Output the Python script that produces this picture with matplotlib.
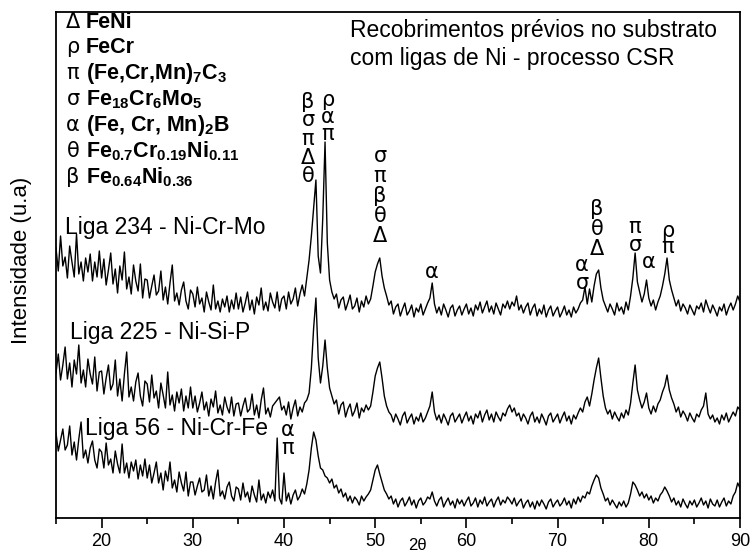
import matplotlib
matplotlib.use("Agg")
import matplotlib.pyplot as plt
from matplotlib.ticker import MultipleLocator

plt.rcParams['font.family'] = ['Liberation Sans', 'DejaVu Sans']
plt.rcParams['mathtext.fontset'] = 'custom'
plt.rcParams['mathtext.rm'] = 'Liberation Sans'
plt.rcParams['mathtext.bf'] = 'Liberation Sans:bold'
plt.rcParams['mathtext.it'] = 'Liberation Sans:italic'

# 2-theta grid (degrees), 0.25 step from 15 to 90
two_theta = [15 + 0.25 * i for i in range(301)]

# Liga 234 - Ni-Cr-Mo (top trace), arbitrary intensity units
liga_234 = [
    270, 247, 282, 252, 261, 240, 272, 256, 241, 284, 244, 256, 237, 260, 246, 264, 237, 256, 241, 267,
    240, 259, 233, 248, 265, 234, 249, 225, 252, 238, 266, 229, 241, 224, 253, 237, 227, 254, 220, 239,
    238, 220, 232, 243, 223, 227, 247, 218, 231, 214, 235, 253, 217, 225, 213, 228, 236, 217, 209, 228,
    224, 211, 231, 214, 220, 206, 226, 216, 208, 233, 209, 217, 206, 219, 211, 222, 206, 218, 209, 225,
    209, 221, 206, 215, 226, 208, 218, 204, 221, 213, 230, 208, 216, 207, 225, 216, 210, 226, 207, 219,
    222, 209, 226, 214, 219, 230, 212, 224, 233, 222, 240, 258, 282, 310, 338, 262, 245, 300, 376, 275,
    238, 226, 219, 224, 210, 218, 221, 208, 215, 223, 209, 212, 220, 206, 217, 211, 222, 214, 219, 232,
    246, 254, 260, 242, 230, 222, 213, 217, 204, 211, 214, 202, 209, 215, 203, 207, 213, 201, 210, 206,
    214, 203, 209, 215, 220, 235, 214, 205, 211, 203, 214, 208, 201, 210, 213, 202, 208, 212, 203, 209,
    214, 204, 210, 202, 213, 208, 216, 205, 211, 217, 206, 212, 204, 215, 209, 203, 214, 210, 217, 209,
    216, 212, 222, 208, 213, 205, 211, 215, 203, 210, 214, 202, 209, 204, 213, 201, 208, 212, 202, 207,
    211, 201, 206, 212, 203, 208, 201, 211, 205, 209, 215, 218, 231, 214, 229, 216, 232, 244, 248, 230,
    218, 212, 206, 214, 209, 203, 215, 207, 211, 204, 216, 208, 222, 240, 265, 236, 226, 216, 224, 238,
    220, 212, 218, 208, 216, 222, 232, 244, 260, 238, 228, 220, 212, 218, 207, 214, 210, 204, 213, 208,
    203, 212, 209, 215, 206, 218, 211, 205, 213, 208, 202, 211, 207, 214, 203, 210, 215, 208, 214, 222,
    216,
]

# Liga 225 - Ni-Si-P (middle trace)
liga_225 = [
    145, 164, 138, 153, 171, 139, 155, 131, 158, 144, 173, 135, 148, 131, 159, 144, 134, 161, 127, 146,
    147, 124, 140, 153, 128, 134, 158, 122, 139, 117, 144, 166, 121, 131, 117, 136, 145, 122, 112, 137,
    134, 116, 143, 120, 127, 110, 135, 123, 110, 146, 113, 123, 107, 126, 115, 129, 107, 122, 110, 131,
    110, 122, 106, 115, 126, 108, 116, 102, 119, 111, 127, 105, 113, 103, 121, 111, 105, 121, 102, 114,
    115, 102, 112, 120, 106, 109, 124, 103, 113, 100, 118, 130, 104, 110, 101, 112, 115, 118, 121, 108,
    112, 103, 116, 99, 110, 118, 102, 111, 106, 115, 118, 125, 150, 190, 220, 160, 135, 152, 178, 150,
    130, 122, 114, 118, 104, 113, 116, 101, 109, 114, 102, 107, 115, 100, 110, 106, 113, 108, 112, 126,
    142, 150, 156, 140, 122, 112, 106, 103, 96, 104, 99, 93, 102, 106, 95, 100, 104, 94, 101, 97,
    105, 96, 100, 106, 112, 126, 106, 98, 103, 95, 104, 99, 93, 102, 105, 96, 100, 104, 95, 101,
    106, 97, 102, 94, 104, 100, 107, 96, 103, 108, 98, 104, 96, 106, 101, 97, 105, 102, 109, 113,
    106, 110, 102, 105, 97, 104, 100, 94, 102, 106, 96, 101, 95, 104, 99, 93, 102, 105, 96, 100,
    104, 95, 101, 106, 97, 102, 94, 103, 99, 105, 110, 106, 116, 121, 112, 124, 138, 150, 160, 140,
    122, 110, 104, 108, 99, 106, 101, 97, 105, 100, 108, 103, 115, 135, 153, 128, 118, 110, 116, 125,
    110, 104, 112, 106, 114, 118, 126, 132, 143, 128, 120, 114, 106, 111, 101, 107, 103, 97, 105, 100,
    96, 104, 101, 108, 112, 125, 104, 99, 103, 96, 100, 94, 103, 98, 105, 96, 101, 106, 102, 111,
    108,
]

# Liga 56 - Ni-Cr-Fe (bottom trace)
liga_56 = [
    85, 67, 78, 89, 68, 73, 92, 63, 76, 58, 79, 96, 60, 68, 55, 70, 77, 58, 50, 69,
    66, 50, 75, 53, 59, 45, 67, 54, 45, 74, 45, 55, 40, 56, 47, 58, 39, 53, 42, 59,
    40, 53, 35, 45, 56, 35, 45, 28, 47, 37, 56, 30, 38, 26, 46, 35, 27, 46, 22, 36,
    36, 23, 32, 40, 26, 28, 43, 22, 32, 19, 36, 48, 22, 27, 19, 31, 36, 22, 17, 31,
    29, 18, 35, 21, 26, 16, 32, 23, 16, 38, 18, 24, 15, 26, 20, 28, 17, 80, 20, 14,
    45, 17, 25, 14, 23, 28, 18, 22, 29, 24, 34, 48, 70, 86, 78, 62, 50, 48, 42, 40,
    35, 39, 30, 33, 25, 29, 21, 25, 17, 22, 15, 21, 18, 13, 22, 17, 21, 24, 28, 38,
    48, 53, 44, 36, 28, 24, 19, 22, 14, 19, 11, 17, 20, 12, 16, 21, 13, 18, 10, 17,
    20, 13, 16, 21, 19, 26, 17, 12, 18, 21, 11, 16, 20, 13, 17, 10, 19, 14, 18, 12,
    17, 21, 12, 15, 20, 11, 18, 14, 21, 12, 16, 19, 11, 17, 21, 13, 18, 15, 21, 18,
    14, 20, 12, 16, 19, 10, 15, 18, 11, 16, 9, 17, 12, 18, 14, 9, 16, 19, 11, 15,
    18, 12, 15, 20, 13, 17, 10, 19, 14, 21, 16, 22, 20, 26, 24, 32, 38, 43, 40, 30,
    24, 17, 20, 13, 18, 14, 10, 16, 12, 17, 11, 15, 24, 36, 33, 28, 22, 26, 20, 24,
    18, 22, 15, 20, 17, 23, 26, 31, 27, 22, 16, 20, 13, 17, 11, 19, 14, 10, 17, 13,
    18, 11, 15, 20, 13, 17, 10, 19, 14, 12, 18, 11, 16, 20, 12, 17, 14, 22, 26, 35,
    30,
]

x_ticks = [20, 30, 40, 50, 60, 70, 80, 90]

legend_symbols = ['Δ', 'ρ', 'π', 'σ', 'α', 'θ', 'β']
legend_phases = [
    'FeNi',
    'FeCr',
    r'(Fe,Cr,Mn)$_\mathbf{7}$C$_\mathbf{3}$',
    r'Fe$_\mathbf{18}$Cr$_\mathbf{6}$Mo$_\mathbf{5}$',
    r'(Fe, Cr, Mn)$_\mathbf{2}$B',
    r'Fe$_\mathbf{0.7}$Cr$_\mathbf{0.19}$Ni$_\mathbf{0.11}$',
    r'Fe$_\mathbf{0.64}$Ni$_\mathbf{0.36}$',
]

sample_names = ['Liga 234 - Ni-Cr-Mo', 'Liga 225 - Ni-Si-P', 'Liga 56 - Ni-Cr-Fe']

# peak annotations: (2theta position, intensity centre, stacked symbols, line spacing)
peak_labels = [
    (42.63, 379, 'β\nσ\nπ\nΔ\nθ', 0.91),
    (44.82, 401, 'ρ\nα\nπ', 0.80),
    (50.53, 322, 'σ\nπ\nβ\nθ\nΔ', 1.00),
    (56.23, 246, 'α', 1.0),
    (72.68, 244, 'α\nσ', 0.83),
    (74.32, 289, 'β\nθ\nΔ', 1.02),
    (78.49, 282, 'π\nσ', 0.83),
    (80.03, 256, 'α', 1.0),
    (82.11, 279, 'ρ\nπ', 0.70),
    (40.44, 79, 'α\nπ', 0.83),
]

fig = plt.figure(figsize=(7.5, 5.53), dpi=100)
ax = fig.add_axes([56 / 750, 35 / 553, 684 / 750, 506 / 553])

for series in (liga_234, liga_225, liga_56):
    ax.plot(two_theta, series, color='black', lw=1.0)

ax.set_xlim(15, 90)
ax.set_ylim(0, 506)
ax.set_xticks(x_ticks)
ax.xaxis.set_minor_locator(MultipleLocator(5))
ax.set_yticks([])
ax.tick_params(axis='x', which='major', direction='out', length=7, width=1.2,
               labelsize=13, pad=4)
ax.tick_params(axis='x', which='minor', direction='out', length=4.5, width=1.2)
for s in ax.spines.values():
    s.set_linewidth(1.3)

ax.set_ylabel('Intensidade (u.a)', fontsize=16)
ax.yaxis.set_label_coords(-0.035, 0.51)

ax.text(54.6, -27, '2θ', fontsize=12, ha='center', va='center', clip_on=False)

# legend of phases
leg_y = [490, 465, 439, 413, 387, 361, 335]
for sym, phase, y in zip(legend_symbols, legend_phases, leg_y):
    ax.text(16.86, y, sym, fontsize=15, ha='center', va='baseline',
            family=['DejaVu Sans'])
    ax.text(18.3, y, phase, fontsize=15.5, fontweight='bold', ha='left', va='baseline')

ax.text(47.24, 488, 'Recobrimentos prévios no substrato', fontsize=16.5, ha='left', va='center')
ax.text(47.24, 460, 'com ligas de Ni - processo CSR', fontsize=16.5, ha='left', va='center')

ax.text(15.99, 291, sample_names[0], fontsize=16.5, ha='left', va='center')
ax.text(16.53, 185, sample_names[1], fontsize=16.5, ha='left', va='center')
ax.text(18.18, 90, sample_names[2], fontsize=16.5, ha='left', va='center')

for xpos, ypos, syms, ls in peak_labels:
    ax.text(xpos, ypos, syms, fontsize=15, ha='center', va='center',
            linespacing=ls, multialignment='center', family=['DejaVu Sans'])

fig.savefig('out.png', dpi=100)
